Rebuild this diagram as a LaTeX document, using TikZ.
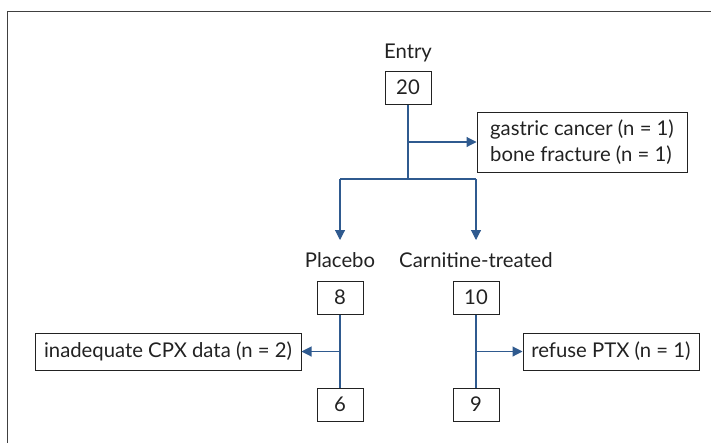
\documentclass[tikz,border=0pt]{standalone}
\usepackage{fontspec}
\setmainfont{Lato}
\usetikzlibrary{arrows.meta}
\definecolor{flow}{HTML}{2F5A8F}
\definecolor{frame}{HTML}{404040}
\definecolor{ink}{HTML}{222222}
\begin{document}
\begin{tikzpicture}[x=1pt,y=-1pt,
  every node/.style={text=ink},
  lbl/.style={font=\fontsize{20.3}{26}\selectfont, inner sep=0pt, anchor=base},
  numbox/.style={draw=ink, line width=1pt, minimum width=46pt, minimum height=33pt, inner sep=0pt, font=\fontsize{20.3}{26}\selectfont},
  txtbox/.style={draw=ink, line width=1pt, inner sep=0pt, font=\fontsize{20.3}{26}\selectfont},
  conn/.style={draw=flow, line width=1.1pt},
  arr/.style={conn, -{Triangle[length=10pt,width=10pt]}}]
\useasboundingbox (0,0) rectangle (711,442);
\draw[frame, line width=1pt] (7,460) -- (7,11) -- (720,11);
\node[lbl] (entry) at (408,58) {Entry};
\node[numbox] (n20) at (408,87.5) {20};
\node[txtbox, minimum width=210pt, minimum height=60pt, align=left] (gast) at (582,142)
  {gastric cancer (n = 1)\\bone fracture (n = 1)};
\coordinate (b1) at (408,142);
\coordinate (sp) at (408,179);
\coordinate (spl) at (340,179);
\coordinate (spr) at (476,179);
\node[lbl] (plac) at (340,267) {Placebo};
\node[lbl] (carn) at (476,267) {Carnitine-treated};
\coordinate (pt) at (340,240);
\coordinate (ct) at (476,240);
\node[numbox] (n8) at (340,297.5) {8};
\node[numbox] (n10) at (476,297.5) {10};
\node[txtbox, minimum width=266pt, minimum height=37pt] (inad) at (168,351.5) {inadequate CPX data (n = 2)};
\node[txtbox, minimum width=176pt, minimum height=37pt] (ref) at (611,351.5) {refuse PTX (n = 1)};
\node[numbox] (n6) at (340,404.5) {6};
\node[numbox] (n9) at (476,404.5) {9};
\coordinate (b2) at (340,351.5);
\coordinate (b3) at (476,351.5);
% connectors
\draw[conn] (n20.south) -- (sp);
\draw[arr] (b1) -- (gast.west);
\draw[conn] (spl) -- (spr);
\draw[arr] (spl) -- (pt);
\draw[arr] (spr) -- (ct);
\draw[conn] (n8.south) -- (n6.north);
\draw[conn] (n10.south) -- (n9.north);
\draw[arr] (b2) -- (inad.east);
\draw[arr] (b3) -- (ref.west);
\end{tikzpicture}
\end{document}
